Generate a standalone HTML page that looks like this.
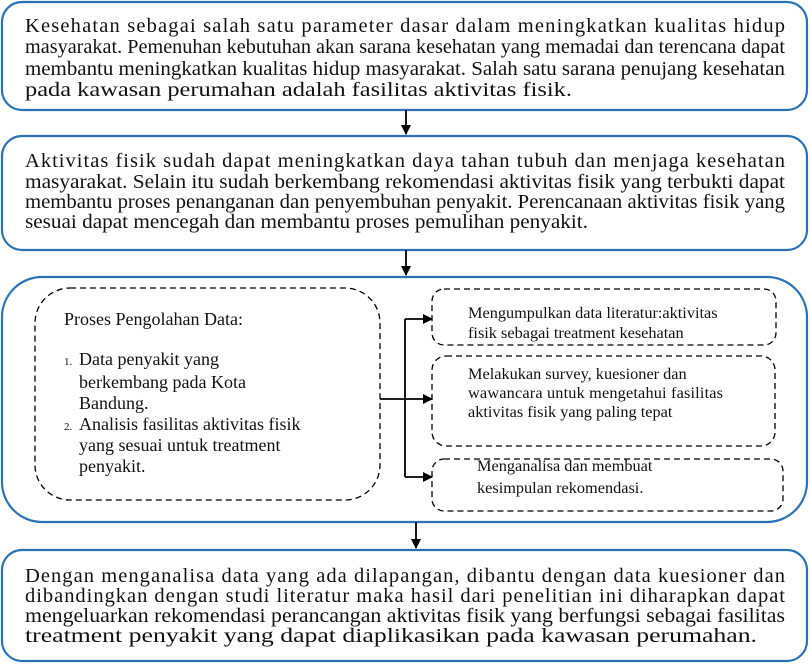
<!DOCTYPE html>
<html><head><meta charset="utf-8"><style>
html,body{margin:0;padding:0;background:#fff;}
svg{display:block;}
text{font-family:"Liberation Serif",serif;fill:#111;}
</style></head><body>
<svg width="810" height="664" viewBox="0 0 810 664" xmlns="http://www.w3.org/2000/svg">
<defs><marker id="ah" markerWidth="10" markerHeight="10" refX="9" refY="5" orient="auto" markerUnits="userSpaceOnUse"><path d="M0,0 L10,5 L0,10 z" fill="#000"/></marker></defs>
<g fill="none" stroke="#2a72b5" stroke-width="2.2">
<rect x="2" y="2" width="805" height="108" rx="20"/>
<rect x="2" y="136" width="805" height="114" rx="20"/>
<rect x="2" y="277" width="805" height="245" rx="40"/>
<rect x="2" y="550" width="805" height="111" rx="20"/>
</g>
<g stroke="#000" stroke-width="1.8" fill="none">
<line x1="406" y1="110" x2="406" y2="134" marker-end="url(#ah)"/>
<line x1="406" y1="250" x2="406" y2="275" marker-end="url(#ah)"/>
<line x1="416" y1="522" x2="416" y2="548" marker-end="url(#ah)"/>
<line x1="380" y1="399" x2="405" y2="399"/>
<line x1="405" y1="319" x2="405" y2="477"/>
<line x1="405" y1="319" x2="432" y2="319" marker-end="url(#ah)"/>
<line x1="405" y1="399" x2="432" y2="399" marker-end="url(#ah)"/>
<line x1="405" y1="477" x2="432" y2="477" marker-end="url(#ah)"/>
</g>
<g fill="none" stroke="#000" stroke-width="1.3" stroke-dasharray="6,4">
<rect x="35" y="288" width="345" height="212" rx="35"/>
<rect x="432" y="289" width="344" height="56" rx="12"/>
<rect x="432" y="356" width="343" height="90" rx="14"/>
<rect x="432" y="459" width="351" height="52" rx="12"/>
</g>
<g font-size="20.5">
<text x="25" y="32" textLength="760" lengthAdjust="spacing">Kesehatan sebagai salah satu parameter dasar dalam meningkatkan kualitas hidup</text>
<text x="25" y="53" textLength="760" lengthAdjust="spacingAndGlyphs">masyarakat. Pemenuhan kebutuhan akan sarana kesehatan yang memadai dan terencana dapat</text>
<text x="25" y="75" textLength="760" lengthAdjust="spacingAndGlyphs">membantu meningkatkan kualitas hidup masyarakat. Salah satu sarana penujang kesehatan</text>
<text x="25" y="96" textLength="547" lengthAdjust="spacingAndGlyphs">pada kawasan perumahan adalah fasilitas aktivitas fisik.</text>

<text x="25" y="167" textLength="760" lengthAdjust="spacing">Aktivitas fisik  sudah dapat meningkatkan daya tahan tubuh dan menjaga kesehatan</text>
<text x="25" y="188" textLength="760" lengthAdjust="spacingAndGlyphs">masyarakat. Selain itu sudah berkembang rekomendasi aktivitas fisik yang terbukti dapat</text>
<text x="25" y="208" textLength="760" lengthAdjust="spacingAndGlyphs">membantu proses penanganan dan penyembuhan penyakit. Perencanaan aktivitas fisik yang</text>
<text x="25" y="228" textLength="563" lengthAdjust="spacingAndGlyphs">sesuai dapat mencegah dan membantu proses pemulihan penyakit.</text>

<text x="25" y="582" textLength="760" lengthAdjust="spacing">Dengan menganalisa data yang ada dilapangan, dibantu dengan data kuesioner dan</text>
<text x="25" y="602" textLength="760" lengthAdjust="spacing">dibandingkan dengan studi literatur maka hasil dari penelitian ini diharapkan dapat</text>
<text x="25" y="622" textLength="760" lengthAdjust="spacingAndGlyphs">mengeluarkan rekomendasi perancangan aktivitas fisik yang berfungsi sebagai  fasilitas</text>
<text x="25" y="642" textLength="732" lengthAdjust="spacingAndGlyphs">treatment penyakit yang dapat diaplikasikan pada kawasan perumahan.</text>
</g>
<g font-size="18">
<text x="64" y="325">Proses Pengolahan Data:</text>
<text x="64" y="365" font-size="11" fill="#555">1.</text>
<text x="79" y="365">Data penyakit yang</text>
<text x="79" y="388">berkembang pada Kota</text>
<text x="79" y="409">Bandung.</text>
<text x="64" y="430" font-size="11" fill="#555">2.</text>
<text x="79" y="430">Analisis fasilitas aktivitas fisik</text>
<text x="79" y="451">yang sesuai untuk treatment</text>
<text x="79" y="472">penyakit.</text>
</g>
<g font-size="16.3">
<text x="468" y="318">Mengumpulkan data literatur:aktivitas</text>
<text x="468" y="338">fisik sebagai treatment kesehatan</text>
<text x="468" y="379">Melakukan survey, kuesioner dan</text>
<text x="468" y="398" textLength="255" lengthAdjust="spacing">wawancara  untuk mengetahui fasilitas</text>
<text x="468" y="417">aktivitas fisik yang paling tepat</text>
<text x="477" y="471">Menganalisa dan membuat</text>
<text x="477" y="493">kesimpulan rekomendasi.</text>
</g>
</svg>
</body></html>
